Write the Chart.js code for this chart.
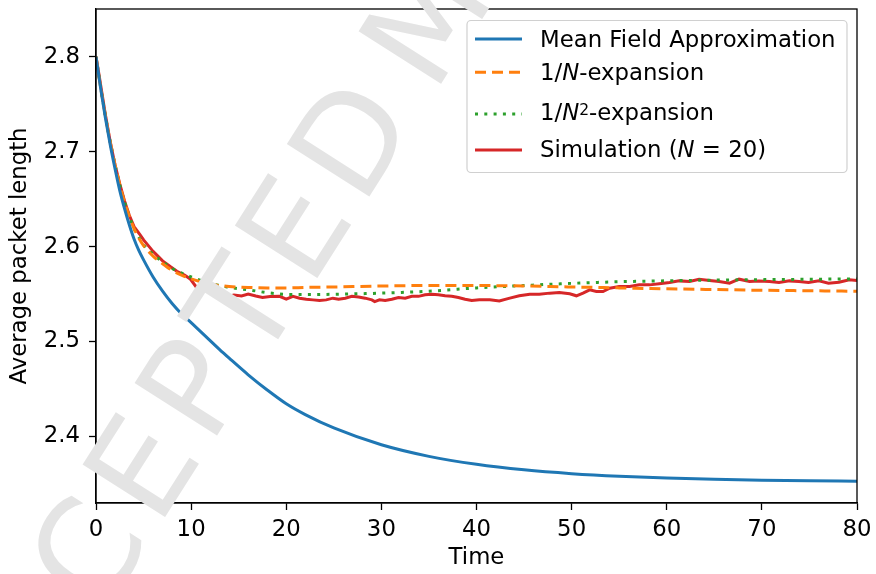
<!DOCTYPE html>
<html>
<head>
<meta charset="utf-8">
<script src="https://cdn.jsdelivr.net/npm/chart.js@4.4.0/dist/chart.umd.min.js"></script>
<style>
  html, body { margin: 0; padding: 0; background: #fff; }
  #wrap { width: 876px; height: 574px; }
</style>
</head>
<body>
<div id="wrap"><canvas id="packetChart" width="876" height="574"></canvas></div>
<script>
// time points used for the three smooth curves
const timeGrid = [0, 0.5, 1, 1.5, 2, 2.5, 3, 3.5, 4, 4.5, 5, 6, 7, 8, 9, 10, 11, 12, 13, 14, 16, 18, 20, 22, 25, 30, 35, 40, 45, 50, 55, 60, 65, 70, 75, 80];

const meanField = [2.800, 2.766, 2.735, 2.707, 2.682, 2.659, 2.640, 2.623, 2.608, 2.596, 2.586, 2.568, 2.553, 2.540, 2.529, 2.520, 2.5105, 2.501, 2.4915, 2.4825, 2.465, 2.449, 2.4345, 2.4231, 2.409, 2.3913, 2.3791, 2.3707, 2.3649, 2.3609, 2.3581, 2.3562, 2.3549, 2.354, 2.3534, 2.353];

const firstOrder = [2.800, 2.767, 2.737, 2.710, 2.686, 2.665, 2.647, 2.632, 2.619, 2.609, 2.601, 2.590, 2.582, 2.575, 2.570, 2.566, 2.563, 2.5605, 2.559, 2.558, 2.557, 2.5565, 2.5565, 2.557, 2.5575, 2.5585, 2.559, 2.559, 2.5585, 2.5575, 2.5565, 2.5555, 2.5548, 2.554, 2.5535, 2.553];

const secondOrder = [2.800, 2.767, 2.737, 2.710, 2.686, 2.665, 2.647, 2.632, 2.619, 2.610, 2.602, 2.592, 2.584, 2.577, 2.572, 2.568, 2.5645, 2.561, 2.559, 2.557, 2.5545, 2.5515, 2.5497, 2.5495, 2.5498, 2.551, 2.553, 2.5565, 2.559, 2.5613, 2.563, 2.564, 2.5647, 2.5652, 2.5656, 2.566];

// simulation trace (N = 20)
const simTime = [0, 0.3, 0.6, 1.0, 1.5, 2.0, 2.5, 3.0, 3.5, 4.0, 4.6, 5.0, 5.5, 6.0, 6.4, 7.0, 7.8, 8.5, 9.3, 9.9, 10.5, 11.2, 12.0, 12.8, 13.7, 14.5, 15.3, 16.0, 16.8, 17.5, 18.3, 19.3, 20.0, 20.7, 21.4, 22.1, 22.8, 23.5, 24.2, 24.9, 25.5, 26.2, 26.9, 27.6, 28.3, 29.0, 29.3, 29.8, 30.4, 31.1, 31.8, 32.5, 33.2, 33.9, 34.6, 35.3, 36.0, 36.7, 37.4, 38.1, 38.8, 39.5, 40.3, 41.4, 42.4, 43.5, 44.5, 45.6, 46.6, 47.7, 48.7, 49.8, 50.5, 51.2, 51.9, 52.6, 53.3, 54.0, 55.0, 56.1, 57.1, 58.2, 59.2, 60.3, 61.3, 62.4, 63.4, 64.5, 65.5, 66.6, 67.6, 68.7, 69.7, 70.8, 71.8, 72.9, 73.9, 74.9, 76.0, 77.0, 78.1, 79.2, 80.0];

const simValues = [2.800, 2.782, 2.763, 2.738, 2.710, 2.686, 2.666, 2.648, 2.633, 2.621, 2.613, 2.607, 2.601, 2.595, 2.591, 2.585, 2.579, 2.574, 2.570, 2.566, 2.558, 2.557, 2.554, 2.551, 2.547, 2.549, 2.548, 2.550, 2.548, 2.5465, 2.5475, 2.5476, 2.5446, 2.5476, 2.5457, 2.5446, 2.5439, 2.5432, 2.5439, 2.5457, 2.5446, 2.5457, 2.5476, 2.5470, 2.5457, 2.5439, 2.5421, 2.5439, 2.5432, 2.5446, 2.5464, 2.5457, 2.5476, 2.5476, 2.5492, 2.5499, 2.5492, 2.5482, 2.5476, 2.5464, 2.5446, 2.5432, 2.5439, 2.5439, 2.5428, 2.5457, 2.5482, 2.5499, 2.5499, 2.5510, 2.5516, 2.5503, 2.5482, 2.5510, 2.5544, 2.5527, 2.5527, 2.5562, 2.5579, 2.5579, 2.5597, 2.5597, 2.5608, 2.5621, 2.5639, 2.5632, 2.5657, 2.5643, 2.5632, 2.5615, 2.5657, 2.5632, 2.5639, 2.5632, 2.5621, 2.5639, 2.5632, 2.5621, 2.5639, 2.5615, 2.5625, 2.5650, 2.5643];

const xTicks = [0, 10, 20, 30, 40, 50, 60, 70, 80];
const yTicks = [2.4, 2.5, 2.6, 2.7, 2.8];

const seriesLabels = ['Mean Field Approximation', '1/N-expansion', '1/N\u00b2-expansion', 'Simulation (N = 20)'];
const seriesColors = ['#1f77b4', '#ff7f0e', '#2ca02c', '#d62728'];
const seriesDash = [[], [11, 6], [3, 6.3], []];

const FONT = '"DejaVu Sans", "Liberation Sans", sans-serif';
const FS = 22.8;
Chart.defaults.font.family = FONT;
Chart.defaults.color = '#000';

function pairs(xs, ys) {
    return xs.map((x, i) => ({ x: x, y: ys[i] }));
}

const smoothSeries = [meanField, firstOrder, secondOrder];
const datasets = smoothSeries.map((vals, i) => ({
    label: seriesLabels[i],
    data: pairs(timeGrid, vals),
    borderColor: seriesColors[i],
    borderWidth: 3,
    borderDash: seriesDash[i],
    borderCapStyle: 'butt',
    pointRadius: 0,
    cubicInterpolationMode: 'monotone',
    fill: false,
}));
datasets.push({
    label: seriesLabels[3],
    data: pairs(simTime, simValues),
    borderColor: seriesColors[3],
    borderWidth: 3,
    pointRadius: 0,
    tension: 0,
    fill: false,
});

// legend rows with italic N / superscript, drawn like the matplotlib legend
const legendRows = [
    [{ t: 'Mean Field Approximation' }],
    [{ t: '1/' }, { t: 'N', it: true }, { t: '-expansion' }],
    [{ t: '1/' }, { t: 'N', it: true }, { t: '2', sup: true }, { t: '-expansion' }],
    [{ t: 'Simulation (' }, { t: 'N', it: true }, { t: ' = 20)' }],
];

const framePlugin = {
    id: 'frameLegendMark',
    afterDraw(chart) {
        const ctx = chart.ctx;
        const a = chart.chartArea;

        // box round the axes
        ctx.save();
        ctx.strokeStyle = '#000';
        ctx.lineWidth = 1.3;
        ctx.strokeRect(a.left, a.top, a.right - a.left, a.bottom - a.top);
        ctx.restore();

        // legend
        const bx = 467, by = 20.5, bw = 380, bh = 152, r = 4;
        ctx.save();
        ctx.beginPath();
        ctx.moveTo(bx + r, by);
        ctx.arcTo(bx + bw, by, bx + bw, by + bh, r);
        ctx.arcTo(bx + bw, by + bh, bx, by + bh, r);
        ctx.arcTo(bx, by + bh, bx, by, r);
        ctx.arcTo(bx, by, bx + bw, by, r);
        ctx.closePath();
        ctx.fillStyle = 'rgba(255,255,255,0.8)';
        ctx.fill();
        ctx.strokeStyle = '#d0d0d0';
        ctx.lineWidth = 1.2;
        ctx.stroke();

        const lineY = [39, 72.3, 114, 150];
        const textY = [46.7, 80, 120, 156.7];
        legendRows.forEach((parts, i) => {
            ctx.beginPath();
            ctx.strokeStyle = seriesColors[i];
            ctx.lineWidth = 3;
            ctx.lineCap = 'butt';
            ctx.setLineDash(seriesDash[i]);
            ctx.moveTo(475, lineY[i]);
            ctx.lineTo(522, lineY[i]);
            ctx.stroke();
            ctx.setLineDash([]);

            let x = 540;
            ctx.fillStyle = '#000';
            ctx.textBaseline = 'alphabetic';
            ctx.textAlign = 'left';
            parts.forEach(p => {
                let dy = 0;
                if (p.it) ctx.font = 'italic ' + FS + 'px ' + FONT;
                else if (p.sup) { ctx.font = '15.5px ' + FONT; dy = -5.5; }
                else ctx.font = FS + 'px ' + FONT;
                ctx.fillText(p.t, x, textY[i] + dy);
                x += ctx.measureText(p.t).width;
            });
        });
        ctx.restore();

        // watermark on top of everything, letter by letter
        ctx.save();
        const text = 'ACCEPTED MANUSCRIPT';
        const ang = -57.5 * Math.PI / 180;
        const ux = Math.cos(ang), uy = Math.sin(ang);
        const gap = 12, spaceW = 18.6;
        ctx.font = '134px ' + FONT;
        const adv = [];
        let s = 0;
        for (const ch of text) {
            adv.push(s);
            s += (ch === ' ' ? spaceW : ctx.measureText(ch).width + gap);
        }
        const ox = 158 - ux * adv[3];
        const oy = 528 - uy * adv[3];
        ctx.fillStyle = 'rgb(228,228,228)';
        ctx.textBaseline = 'alphabetic';
        ctx.textAlign = 'left';
        [...text].forEach((ch, i) => {
            ctx.save();
            ctx.translate(ox + ux * adv[i], oy + uy * adv[i]);
            ctx.rotate(ang);
            ctx.fillText(ch, 0, 0);
            ctx.restore();
        });
        ctx.restore();
    }
};

const ctx = document.getElementById('packetChart').getContext('2d');
const packetChart = new Chart(ctx, {
    type: 'line',
    data: { datasets: datasets },
    options: {
        responsive: false,
        animation: false,
        events: [],
        layout: { padding: { left: 0, right: 19, top: 9, bottom: 0 } },
        plugins: {
            legend: { display: false },
            tooltip: { enabled: false },
        },
        scales: {
            x: {
                type: 'linear',
                min: 0,
                max: 80,
                afterBuildTicks: s => { s.ticks = xTicks.map(v => ({ value: v })); },
                afterFit: s => { s.height = 71; s.paddingLeft = 0; s.paddingRight = 0; },
                ticks: { font: { size: FS }, color: '#000', padding: 6, maxRotation: 0, autoSkip: false },
                grid: { drawOnChartArea: false, drawTicks: true, tickLength: 7, tickWidth: 1.3, tickColor: '#000' },
                border: { display: true, color: '#000', width: 1.3 },
                title: { display: true, text: 'Time', font: { size: FS }, color: '#000', padding: { top: 0, bottom: 2 } },
            },
            y: {
                type: 'linear',
                min: 2.33,
                max: 2.8502,
                afterBuildTicks: s => { s.ticks = yTicks.map(v => ({ value: v })); },
                afterFit: s => { s.width = 96; s.paddingTop = 0; s.paddingBottom = 0; },
                ticks: { font: { size: FS }, color: '#000', padding: 9, callback: v => v.toFixed(1) },
                grid: { drawOnChartArea: false, drawTicks: true, tickLength: 7, tickWidth: 1.3, tickColor: '#000' },
                border: { display: true, color: '#000', width: 1.3 },
                title: { display: true, text: 'Average packet length', font: { size: FS }, color: '#000', padding: { top: 6, bottom: 0 } },
            },
        },
    },
    plugins: [framePlugin],
});
</script>
</body>
</html>
